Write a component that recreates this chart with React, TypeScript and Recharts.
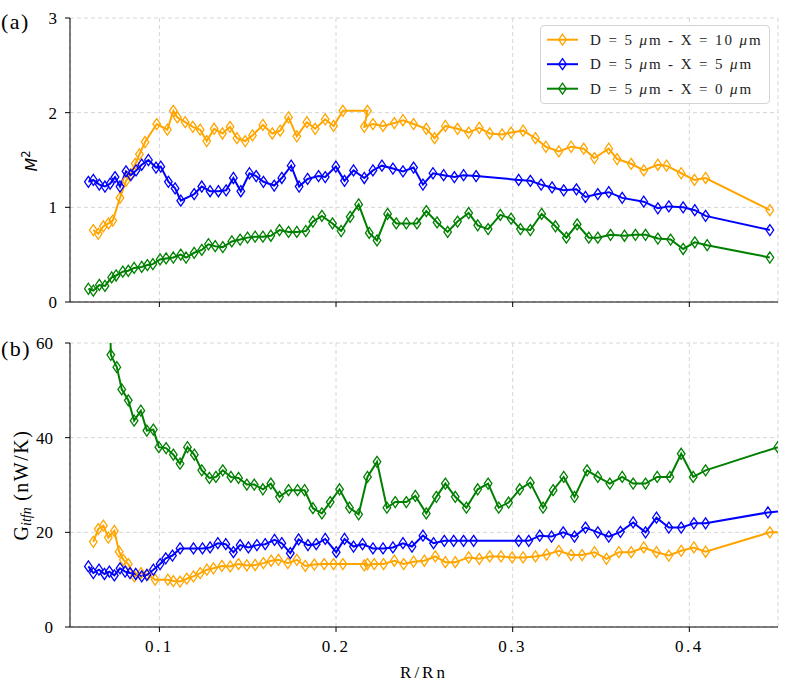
import React from 'react';
import { LineChart, Line, XAxis, YAxis, CartesianGrid, Legend } from 'recharts';

const X_DOMAIN: [number, number] = [0.0494, 0.4502];
const X_TICKS = [0.1, 0.2, 0.3, 0.4];
const M2_DOMAIN: [number, number] = [0, 3];
const M2_TICKS = [0, 1, 2, 3];
const G_DOMAIN: [number, number] = [0, 60];
const G_TICKS = [0, 20, 40, 60];

const SERIES_NAMES = ['D = 5 μm - X = 10 μm', 'D = 5 μm - X = 5 μm', 'D = 5 μm - X = 0 μm'];
const COLORS = ['#ffa500', '#0000ff', '#008000'];

// ---------- panel (a): M^2 ----------
const orangeM2X = [0.0626, 0.0654, 0.0683, 0.0712, 0.0736, 0.0777, 0.0811, 0.0838, 0.0863, 0.0887, 0.0919, 0.0985, 0.1045, 0.1079, 0.1102, 0.1146, 0.1189, 0.1231, 0.1268, 0.131, 0.1357, 0.14, 0.1439, 0.1486, 0.1527, 0.1586, 0.1639, 0.1684, 0.1731, 0.1778, 0.1835, 0.1882, 0.1939, 0.1986, 0.2039, 0.2178, 0.216, 0.2209, 0.2266, 0.233, 0.2379, 0.2439, 0.2511, 0.2558, 0.2619, 0.2688, 0.2751, 0.2811, 0.287, 0.294, 0.2991, 0.3059, 0.3129, 0.3188, 0.3261, 0.3331, 0.3402, 0.3463, 0.3544, 0.3591, 0.3671, 0.3742, 0.3822, 0.3871, 0.3954, 0.4029, 0.4092, 0.4456];
const orangeM2Y = [0.76, 0.72, 0.8, 0.83, 0.86, 1.1, 1.28, 1.35, 1.46, 1.56, 1.69, 1.88, 1.82, 2.02, 1.95, 1.9, 1.85, 1.82, 1.7, 1.83, 1.78, 1.85, 1.73, 1.7, 1.76, 1.87, 1.78, 1.81, 1.95, 1.75, 1.9, 1.83, 1.93, 1.86, 2.02, 2.02, 1.85, 1.88, 1.86, 1.89, 1.92, 1.88, 1.83, 1.73, 1.86, 1.83, 1.79, 1.84, 1.78, 1.77, 1.79, 1.81, 1.73, 1.64, 1.59, 1.64, 1.62, 1.52, 1.62, 1.51, 1.46, 1.39, 1.45, 1.44, 1.36, 1.29, 1.31, 0.97];

const blueM2X = [0.0598, 0.0626, 0.066, 0.0692, 0.0721, 0.0749, 0.0777, 0.0811, 0.0838, 0.0868, 0.09, 0.0938, 0.0981, 0.1008, 0.1051, 0.1089, 0.1121, 0.1197, 0.124, 0.1287, 0.1334, 0.1378, 0.1419, 0.1461, 0.151, 0.1548, 0.1589, 0.165, 0.1693, 0.1746, 0.1791, 0.1839, 0.1901, 0.1939, 0.1999, 0.2048, 0.2099, 0.216, 0.2209, 0.226, 0.2322, 0.2379, 0.2439, 0.2492, 0.2549, 0.2609, 0.267, 0.2722, 0.2793, 0.3034, 0.31, 0.3161, 0.3223, 0.3289, 0.3361, 0.3412, 0.3482, 0.3544, 0.362, 0.3742, 0.3822, 0.3884, 0.3965, 0.4031, 0.4092, 0.4456];
const blueM2Y = [1.27, 1.29, 1.24, 1.22, 1.25, 1.32, 1.22, 1.38, 1.34, 1.39, 1.45, 1.5, 1.42, 1.43, 1.27, 1.2, 1.07, 1.14, 1.22, 1.17, 1.17, 1.18, 1.31, 1.17, 1.36, 1.33, 1.27, 1.23, 1.31, 1.44, 1.22, 1.3, 1.33, 1.32, 1.43, 1.28, 1.39, 1.31, 1.39, 1.44, 1.41, 1.38, 1.42, 1.24, 1.36, 1.34, 1.32, 1.34, 1.33, 1.29, 1.28, 1.24, 1.21, 1.18, 1.19, 1.11, 1.14, 1.16, 1.1, 1.06, 0.99, 1.01, 1.0, 0.97, 0.91, 0.76];

const greenM2X = [0.0598, 0.0626, 0.066, 0.0692, 0.073, 0.0755, 0.0793, 0.0824, 0.0857, 0.09, 0.0932, 0.0963, 0.1004, 0.1038, 0.1079, 0.1121, 0.1151, 0.1197, 0.124, 0.1278, 0.1316, 0.1359, 0.141, 0.1457, 0.1499, 0.1542, 0.1586, 0.1631, 0.168, 0.1731, 0.1778, 0.1829, 0.1869, 0.192, 0.198, 0.2029, 0.208, 0.2128, 0.2188, 0.2232, 0.2292, 0.2341, 0.2398, 0.2458, 0.2511, 0.2572, 0.2632, 0.2688, 0.2751, 0.2802, 0.2861, 0.293, 0.2991, 0.3044, 0.31, 0.3164, 0.3242, 0.3304, 0.3365, 0.3431, 0.3482, 0.3554, 0.3633, 0.3695, 0.3752, 0.3822, 0.3894, 0.3965, 0.4031, 0.4101, 0.4456];
const greenM2Y = [0.14, 0.12, 0.18, 0.17, 0.26, 0.28, 0.32, 0.33, 0.36, 0.37, 0.39, 0.4, 0.45, 0.46, 0.47, 0.5, 0.47, 0.52, 0.55, 0.61, 0.59, 0.58, 0.64, 0.66, 0.68, 0.69, 0.69, 0.7, 0.76, 0.74, 0.74, 0.75, 0.85, 0.91, 0.83, 0.75, 0.9, 1.03, 0.73, 0.65, 0.93, 0.83, 0.83, 0.83, 0.96, 0.84, 0.74, 0.85, 0.94, 0.81, 0.77, 0.92, 0.88, 0.77, 0.76, 0.93, 0.8, 0.68, 0.82, 0.68, 0.68, 0.71, 0.7, 0.71, 0.71, 0.67, 0.66, 0.56, 0.63, 0.6, 0.47];

// ---------- panel (b): G_itfn (nW/K) ----------
const orangeGX = [0.0626, 0.0654, 0.0683, 0.0711, 0.0745, 0.0772, 0.0796, 0.0824, 0.0858, 0.0896, 0.0934, 0.0976, 0.1048, 0.1079, 0.1117, 0.1155, 0.1193, 0.1231, 0.1269, 0.1306, 0.1354, 0.1401, 0.1448, 0.1495, 0.1542, 0.1589, 0.1633, 0.1674, 0.1727, 0.1778, 0.1826, 0.1877, 0.1933, 0.1986, 0.2039, 0.2178, 0.216, 0.2216, 0.2269, 0.233, 0.2383, 0.2439, 0.25, 0.2562, 0.2619, 0.2675, 0.2751, 0.2811, 0.287, 0.2934, 0.2997, 0.3059, 0.3129, 0.3192, 0.3261, 0.3331, 0.3393, 0.3463, 0.3531, 0.3601, 0.3671, 0.3742, 0.3814, 0.3884, 0.3954, 0.4026, 0.4092, 0.4456, 0.46];
const orangeGY = [18.0, 20.7, 21.4, 18.9, 20.3, 15.9, 14.2, 13.3, 10.7, 11.4, 11.0, 10.0, 10.0, 9.7, 9.6, 10.2, 10.7, 11.4, 12.1, 12.4, 12.9, 12.8, 13.3, 13.0, 13.1, 13.5, 14.0, 14.2, 13.5, 14.2, 12.9, 13.2, 13.3, 13.3, 13.3, 13.3, 13.0, 13.3, 13.3, 14.0, 13.3, 13.8, 14.0, 14.9, 13.7, 13.7, 14.7, 14.4, 14.9, 14.9, 14.7, 14.7, 14.9, 15.3, 16.1, 15.2, 15.2, 15.8, 14.4, 15.8, 15.8, 16.8, 15.8, 15.1, 16.1, 16.8, 15.9, 20.0, 20.1];

const blueGX = [0.0598, 0.0626, 0.0658, 0.0689, 0.0717, 0.0745, 0.0777, 0.0806, 0.0834, 0.0866, 0.09, 0.0929, 0.0966, 0.1004, 0.1036, 0.1074, 0.1117, 0.1193, 0.1244, 0.1287, 0.1331, 0.1376, 0.1419, 0.1457, 0.1504, 0.1552, 0.1599, 0.1652, 0.1693, 0.1741, 0.1788, 0.1841, 0.1888, 0.1939, 0.2001, 0.2048, 0.2099, 0.215, 0.2209, 0.2266, 0.2322, 0.2379, 0.243, 0.2492, 0.2552, 0.2613, 0.2666, 0.2722, 0.2779, 0.3034, 0.3091, 0.3153, 0.322, 0.3286, 0.335, 0.3412, 0.3482, 0.3544, 0.361, 0.3682, 0.3752, 0.3814, 0.3884, 0.3954, 0.4026, 0.4092, 0.4445, 0.46];
const blueGY = [12.8, 11.4, 12.1, 11.2, 11.7, 10.9, 12.4, 11.7, 11.4, 11.2, 10.7, 11.0, 12.1, 13.3, 14.5, 15.1, 16.6, 16.6, 16.6, 16.8, 17.7, 17.5, 15.8, 17.3, 16.8, 17.3, 17.5, 18.4, 17.7, 15.6, 18.5, 17.3, 17.5, 18.6, 15.8, 18.6, 17.0, 17.5, 16.6, 16.6, 16.8, 17.7, 17.0, 19.3, 17.7, 18.2, 18.2, 18.2, 18.2, 18.2, 18.2, 19.3, 19.1, 20.0, 19.1, 21.0, 20.0, 19.1, 20.1, 22.1, 20.0, 23.1, 21.0, 21.0, 21.9, 21.9, 24.2, 24.7];

const greenGX = [0.0692, 0.0725, 0.0759, 0.0787, 0.0824, 0.0857, 0.0895, 0.0929, 0.0966, 0.0997, 0.1038, 0.1079, 0.1117, 0.1159, 0.1198, 0.124, 0.1283, 0.132, 0.1359, 0.1405, 0.1448, 0.1495, 0.1537, 0.1586, 0.1631, 0.168, 0.1731, 0.1782, 0.1822, 0.1869, 0.192, 0.1967, 0.202, 0.2076, 0.2128, 0.2178, 0.2232, 0.2288, 0.2335, 0.2398, 0.2449, 0.2511, 0.2568, 0.2619, 0.2675, 0.2738, 0.2802, 0.2861, 0.2921, 0.2977, 0.304, 0.31, 0.3172, 0.3229, 0.3289, 0.335, 0.3421, 0.3482, 0.355, 0.362, 0.3682, 0.3752, 0.3818, 0.389, 0.3954, 0.4022, 0.4092, 0.4501];
const greenGY = [130, 57.5, 54.9, 50.2, 47.9, 43.6, 45.7, 41.5, 41.7, 38.0, 37.8, 36.4, 34.5, 38.0, 36.4, 33.1, 31.5, 31.7, 33.1, 31.7, 31.5, 30.1, 30.1, 29.1, 30.3, 27.5, 28.9, 28.9, 28.9, 25.1, 24.0, 26.4, 29.1, 25.2, 23.8, 31.7, 34.9, 25.2, 26.4, 26.4, 27.7, 24.0, 27.5, 30.3, 27.5, 25.2, 29.1, 30.3, 25.2, 26.3, 29.1, 30.5, 25.2, 28.9, 31.7, 27.5, 33.1, 31.7, 30.3, 31.7, 30.3, 30.3, 31.7, 31.7, 36.6, 31.7, 33.1, 38.0];

const zip = (xs: number[], ys: number[]) => xs.map((x, i) => ({ x, y: ys[i] }));

const panelA = [zip(orangeM2X, orangeM2Y), zip(blueM2X, blueM2Y), zip(greenM2X, greenM2Y)];
const panelB = [zip(orangeGX, orangeGY), zip(blueGX, blueGY), zip(greenGX, greenGY)];

const SERIF = '"Liberation Serif", "Times New Roman", serif';
const tickStyle = { fill: '#000', fontSize: 17, fontFamily: SERIF };

const makeDiamond = (color: string) => (props: any) => {
  const { cx, cy, index } = props;
  if (cx == null || cy == null || isNaN(cx) || isNaN(cy)) return <g key={`e${index}`} />;
  return (
    <path
      key={`d${index}`}
      d={`M${cx},${cy - 5.5}L${cx + 3.8},${cy}L${cx},${cy + 5.5}L${cx - 3.8},${cy}Z`}
      fill="none"
      stroke={color}
      strokeWidth={1.3}
    />
  );
};

const LegendText = ({ text, x, y }: { text: string; x: number; y: number }) => {
  const parts = text.split('μ');
  return (
    <text x={x} y={y} fontFamily={SERIF} fontSize={15} fill="#222" style={{ letterSpacing: 1.9, whiteSpace: 'pre' }} dominantBaseline="central">
      {parts.map((p, i) => (
        <React.Fragment key={i}>
          {i > 0 && <tspan fontStyle="italic">μ</tspan>}
          <tspan>{p}</tspan>
        </React.Fragment>
      ))}
    </text>
  );
};

// legend drawn in series order (orange, blue, green), as in the reference
const renderLegend = () => (
  <div
    style={{
      width: 230,
      height: 79,
      boxSizing: 'border-box',
      border: '1px solid #d4d4d4',
      borderRadius: 4,
      background: 'rgba(255,255,255,0.85)',
    }}
  >
    <svg width={228} height={77} style={{ display: 'block' }}>
      {SERIES_NAMES.map((name, i) => {
        const cy = 13.7 + i * 24.5;
        const c = COLORS[i];
        return (
          <g key={i}>
            <line x1={6} x2={37} y1={cy} y2={cy} stroke={c} strokeWidth={2} />
            <path d={`M21.5,${cy - 5.5}L25.3,${cy}L21.5,${cy + 5.5}L17.7,${cy}Z`} fill="none" stroke={c} strokeWidth={1.3} />
            <LegendText text={name} x={49} y={cy} />
          </g>
        );
      })}
    </svg>
  </div>
);

export default function App() {
  return (
    <div style={{ position: 'absolute', left: 0, top: 0, width: 789, height: 692, background: '#fff' }}>
      {/* panel (a) */}
      <div style={{ position: 'absolute', left: 0, top: 0 }}>
        <LineChart width={789} height={330} margin={{ top: 18, right: 11, bottom: 0, left: 0 }}>
          <CartesianGrid stroke="#d6d6d6" strokeDasharray="4 3" />
          <XAxis
            type="number"
            dataKey="x"
            domain={X_DOMAIN}
            ticks={X_TICKS}
            allowDataOverflow
            height={28}
            tickSize={5}
            tickFormatter={() => ''}
            axisLine={{ stroke: '#000' }}
            tickLine={{ stroke: '#000' }}
          />
          <XAxis xAxisId="top" orientation="top" type="number" dataKey="x" domain={X_DOMAIN} allowDataOverflow height={0} tick={false} tickLine={false} axisLine={{ stroke: '#000' }} />
          <YAxis
            type="number"
            domain={M2_DOMAIN}
            ticks={M2_TICKS}
            allowDataOverflow
            width={70}
            tickSize={5}
            tickMargin={8}
            tick={tickStyle}
            axisLine={{ stroke: '#000' }}
            tickLine={{ stroke: '#000' }}
          />
          <YAxis yAxisId="right" orientation="right" domain={M2_DOMAIN} width={0} tick={false} tickLine={false} axisLine={{ stroke: '#000' }} />
          {panelA.map((d, i) => (
            <Line
              key={i}
              data={d}
              dataKey="y"
              name={SERIES_NAMES[i]}
              stroke={COLORS[i]}
              strokeWidth={2}
              dot={makeDiamond(COLORS[i])}
              activeDot={false}
              isAnimationActive={false}
            />
          ))}
          <Legend
            layout="vertical"
            align="center"
            verticalAlign="middle"
            content={renderLegend}
            wrapperStyle={{ left: 540, top: 25, width: 230, height: 79 }}
          />
        </LineChart>
      </div>

      {/* panel (b) */}
      <div style={{ position: 'absolute', left: 0, top: 330 }}>
        <LineChart width={789} height={362} margin={{ top: 13, right: 11, bottom: 0, left: 0 }}>
          <CartesianGrid stroke="#d6d6d6" strokeDasharray="4 3" />
          <XAxis
            type="number"
            dataKey="x"
            domain={X_DOMAIN}
            ticks={X_TICKS}
            allowDataOverflow
            height={65}
            tickSize={5}
            tickMargin={8}
            tick={{ ...tickStyle, style: { letterSpacing: 2.5 } } as any}
            axisLine={{ stroke: '#000' }}
            tickLine={{ stroke: '#000' }}
          />
          <XAxis xAxisId="top" orientation="top" type="number" dataKey="x" domain={X_DOMAIN} allowDataOverflow height={0} tick={false} tickLine={false} axisLine={{ stroke: '#000' }} />
          <YAxis
            type="number"
            domain={G_DOMAIN}
            ticks={G_TICKS}
            allowDataOverflow
            width={70}
            tickSize={5}
            tickMargin={12}
            tick={tickStyle}
            axisLine={{ stroke: '#000' }}
            tickLine={{ stroke: '#000' }}
          />
          <YAxis yAxisId="right" orientation="right" domain={G_DOMAIN} width={0} tick={false} tickLine={false} axisLine={{ stroke: '#000' }} />
          {panelB.map((d, i) => (
            <Line
              key={i}
              data={d}
              dataKey="y"
              name={SERIES_NAMES[i]}
              stroke={COLORS[i]}
              strokeWidth={2}
              dot={makeDiamond(COLORS[i])}
              activeDot={false}
              isAnimationActive={false}
            />
          ))}
        </LineChart>
      </div>

      {/* text overlay: panel letters and axis titles */}
      <svg width={789} height={692} style={{ position: 'absolute', left: 0, top: 0, pointerEvents: 'none' }}>
        <text x={1} y={29} fontFamily={SERIF} fontSize={22} fill="#000" style={{ letterSpacing: 1.5 }}>(a)</text>
        <text x={1} y={356} fontFamily={SERIF} fontSize={22} fill="#000" style={{ letterSpacing: 1.5 }}>(b)</text>
        <text transform="rotate(-90, 37, 161)" x={37} y={161} textAnchor="middle" fill="#000" fontFamily='"DejaVu Sans", sans-serif'>
          <tspan fontStyle="italic" fontSize={16}>M</tspan>
          <tspan fontSize={11.5} dy={-7}>2</tspan>
        </text>
        <text transform="rotate(-90, 28, 485)" x={28} y={485} textAnchor="middle" fill="#000" fontFamily={SERIF} style={{ whiteSpace: 'pre' }}>
          <tspan fontSize={20}>G</tspan>
          <tspan fontSize={14} fontStyle="italic" dy={3}>itfn</tspan>
          <tspan fontSize={20} dy={-3} style={{ letterSpacing: 1.5 }}> (nW/K)</tspan>
        </text>
        <text x={424} y={678} textAnchor="middle" fontFamily={SERIF} fontSize={17} fill="#000" style={{ letterSpacing: 3 }}>R/Rn</text>
      </svg>
    </div>
  );
}
